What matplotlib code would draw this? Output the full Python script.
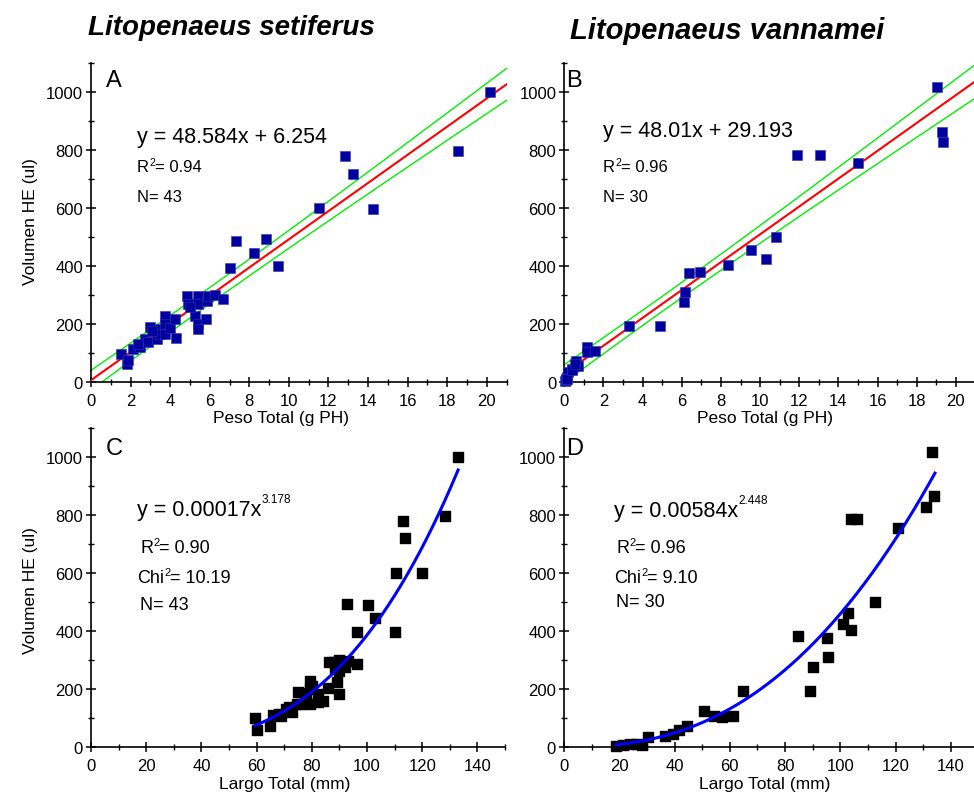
import numpy as np
import matplotlib
matplotlib.use("Agg")
import matplotlib.pyplot as plt
from matplotlib.ticker import MultipleLocator

plt.rcParams['font.family'] = ['Liberation Sans', 'DejaVu Sans']

# ---------------- data ----------------
# Panel A: L. setiferus, weight (g) vs HE volume (ul)
a_peso = [1.52, 1.80, 1.85, 2.14, 2.48, 2.73, 2.88, 2.98, 3.32, 3.49, 3.50, 3.74, 3.74, 3.74,
          4.00, 4.24, 4.28, 4.84, 4.92, 5.26, 5.39, 5.42, 5.42, 5.42, 5.80, 5.85, 5.93, 6.27,
          6.69, 7.02, 7.33, 8.24, 8.84, 9.46, 11.52, 12.83, 13.22, 14.23, 18.55, 20.16,
          2.40, 3.10, 5.00]
a_vol = [97, 62, 75, 114, 121, 148, 138, 190, 148, 183, 165, 229, 200, 166,
         185, 217, 152, 296, 269, 227, 296, 269, 200, 183, 217, 280, 298, 300,
         286, 393, 486, 445, 493, 399, 599, 780, 717, 597, 798, 999,
         130, 175, 260]

# Panel B: L. vannamei, weight (g) vs HE volume (ul)
b_peso = [0.12, 0.20, 0.38, 0.60, 0.72, 1.14, 1.14, 1.57, 3.32, 4.89, 6.16, 6.11, 6.38, 6.93,
          8.38, 9.52, 19.02, 19.27, 19.33, 11.87, 13.06, 15.02, 10.30, 10.81,
          0.05, 0.08, 0.10, 0.15, 0.40, 0.55]
b_vol = [16, 33, 45, 73, 56, 122, 102, 108, 192, 194, 309, 277, 375, 380,
         403, 456, 1018, 863, 829, 784, 784, 755, 424, 501,
         5, 8, 10, 12, 40, 62]

# Panel C: L. setiferus, total length (mm) vs HE volume (ul)
c_largo = [133.0, 128.2, 113.1, 113.7, 110.4, 120.1, 92.8, 100.4, 102.8, 96.2, 110.1,
           86.3, 88.0, 93.2, 96.2, 89.9, 92.0, 88.3, 79.3, 79.3, 89.3, 85.9, 89.8,
           82.1, 82.1, 79.3, 77.5, 75.1, 74.5, 73.0, 71.8, 70.6, 69.0, 66.0, 64.8,
           59.4, 60.2, 80.0, 78.0, 90.0, 84.0, 76.0, 68.0]
c_vol = [1000, 798, 780, 720, 599, 599, 493, 490, 444, 395, 398,
         294, 294, 298, 286, 263, 277, 269, 229, 200, 223, 202, 183,
         183, 154, 148, 166, 189, 148, 120, 137, 131, 108, 110, 71,
         99, 60, 210, 185, 300, 160, 150, 115]

# Panel D: L. vannamei, total length (mm) vs HE volume (ul)
d_largo = [133.0, 133.9, 131.0, 103.7, 106.1, 120.7, 112.4, 102.7, 101.1, 103.7, 84.8,
           95.0, 95.5, 90.2, 89.0, 64.9, 50.8, 54.3, 57.0, 61.3, 44.6, 41.7, 39.5,
           36.5, 30.5, 26.3, 28.1, 21.2, 18.8, 24.0]
d_vol = [1018, 864, 829, 786, 786, 756, 501, 461, 424, 405, 382,
         375, 309, 277, 194, 192, 123, 108, 102, 108, 71, 60, 45,
         39, 33, 10, 7, 8, 4, 10]

# fitted models (printed on the chart)
a_fit = (48.584, 6.254)
b_fit = (48.01, 29.193)
c_fit = (0.00017, 3.178)
d_fit = (0.00584, 2.448)
# confidence band shape: (centre x, half-width at centre, growth)
a_band = (6.0, 28.0, 3.16)
b_band = (5.0, 26.0, 3.24)
c_range = (59.4, 133.0)
d_range = (18.8, 134.2)

titles = ["Litopenaeus setiferus", "Litopenaeus vannamei"]

# ---------------- figure ----------------
W, H = 974, 812
fig = plt.figure(figsize=(W / 100, H / 100), dpi=100)
renderer = fig.canvas.get_renderer()


def px_axes(left, top, right, bottom):
    return fig.add_axes([left / W, 1 - bottom / H, (right - left) / W, (bottom - top) / H])


def ftext(x, y, s, **kw):
    return fig.text(x / W, 1 - y / H, s, **kw)


def sup_line(x, y_base, segments):
    """segments: list of (text, fontsize, raise_px); drawn on one baseline."""
    cx = x
    for s, fs, rz in segments:
        t = ftext(cx, y_base - rz, s, ha='left', va='baseline', fontsize=fs)
        bb = t.get_window_extent(renderer=renderer)
        cx += bb.width


def style(ax, xmax, xmaj, xmin):
    ax.set_xlim(0, xmax)
    ax.set_ylim(0, 1100)
    ax.spines['top'].set_visible(False)
    ax.spines['right'].set_visible(False)
    for s in ('left', 'bottom'):
        ax.spines[s].set_linewidth(1.2)
    ax.xaxis.set_major_locator(MultipleLocator(xmaj))
    ax.xaxis.set_minor_locator(MultipleLocator(xmin))
    ax.yaxis.set_major_locator(MultipleLocator(200))
    ax.yaxis.set_minor_locator(MultipleLocator(100))
    ax.tick_params(which='major', direction='inout', length=6.5, width=1.1, labelsize=12)
    ax.tick_params(which='minor', direction='inout', length=4, width=1.0)
    ax.tick_params(axis='x', which='major', pad=4.5)
    ax.tick_params(axis='y', which='major', pad=2.5)
    ax.set_yticks([0, 200, 400, 600, 800, 1000])
    ax.patch.set_alpha(0)


axA = px_axes(91, 64, 506.6, 383)
axB = px_axes(564.3, 64, 975.5, 383)
axC = px_axes(91, 429, 505, 748)
axD = px_axes(564, 429, 978.6, 748)

style(axA, 21, 2, 1)
style(axB, 21, 2, 1)
style(axC, 150, 20, 10)
style(axD, 150, 20, 10)

# linear panels
for ax, xs, ys, fit, band in [(axA, a_peso, a_vol, a_fit, a_band),
                              (axB, b_peso, b_vol, b_fit, b_band)]:
    xx = np.linspace(0, 21, 200)
    yy = fit[0] * xx + fit[1]
    hw = np.sqrt(band[1] ** 2 + (band[2] * (xx - band[0])) ** 2)
    ax.plot(xx, yy + hw, color='#00ee00', lw=1.0, zorder=2, clip_on=False)
    ax.plot(xx, yy - hw, color='#00ee00', lw=1.0, zorder=2)
    ax.plot(xx, yy, color='#ff0000', lw=1.5, zorder=3)
    ax.scatter(xs, ys, marker='s', s=42, color='#0000a0', edgecolors='#3333b0',
               linewidths=0.4, zorder=4, clip_on=False)

# power-law panels
for ax, xs, ys, fit, rng in [(axC, c_largo, c_vol, c_fit, c_range),
                             (axD, d_largo, d_vol, d_fit, d_range)]:
    ax.scatter(xs, ys, marker='s', s=50, color='black', zorder=3, clip_on=False)
    xx = np.linspace(rng[0], rng[1], 200)
    ax.plot(xx, fit[0] * xx ** fit[1], color='#0000ff', lw=2.2, zorder=4)

# titles
ftext(231, 28, titles[0], ha='center', va='center', fontsize=20, fontweight='bold', style='italic')
ftext(727, 31, titles[1], ha='center', va='center', fontsize=21, fontweight='bold', style='italic')

# panel letters
ftext(106, 81, "A", ha='left', va='center', fontsize=17)
ftext(566, 81, "B", ha='left', va='center', fontsize=17)
ftext(106, 449, "C", ha='left', va='center', fontsize=17)
ftext(566, 449, "D", ha='left', va='center', fontsize=17)

# annotations, panel A
ftext(137, 138, "y = 48.584x + 6.254", ha='left', va='center', fontsize=15.5)
sup_line(137, 172, [("R", 12, 0), ("2", 7.5, 6.5), ("= 0.94", 12, 0)])
ftext(137, 197, "N= 43", ha='left', va='center', fontsize=12)

# panel B
ftext(603, 131, "y = 48.01x + 29.193", ha='left', va='center', fontsize=15.5)
sup_line(603, 172, [("R", 12, 0), ("2", 7.5, 6.5), ("= 0.96", 12, 0)])
ftext(603, 197, "N= 30", ha='left', va='center', fontsize=12)

# panel C
sup_line(137, 516, [("y = 0.00017x", 15.5, 0), ("3.178", 8.5, 13)])
sup_line(140, 553, [("R", 13, 0), ("2", 8, 7), ("= 0.90", 13, 0)])
sup_line(137, 583, [("Chi", 13, 0), ("2", 8, 7), ("= 10.19", 13, 0)])
ftext(140, 606, "N= 43", ha='left', va='center', fontsize=13)

# panel D
sup_line(614, 517, [("y = 0.00584x", 15.5, 0), ("2.448", 8.5, 13)])
sup_line(616, 553, [("R", 13, 0), ("2", 8, 7), ("= 0.96", 13, 0)])
sup_line(614, 583, [("Chi", 13, 0), ("2", 8, 7), ("= 9.10", 13, 0)])
ftext(616, 603, "N= 30", ha='left', va='center', fontsize=13)

# axis labels
ftext(30, 222, "Volumen HE (ul)", ha='center', va='center', rotation=90, fontsize=12.5)
ftext(30, 591, "Volumen HE (ul)", ha='center', va='center', rotation=90, fontsize=12.5)
ftext(281, 419, "Peso Total (g PH)", ha='center', va='center', fontsize=12.5)
ftext(765, 419, "Peso Total (g PH)", ha='center', va='center', fontsize=12.5)
ftext(285, 785, "Largo Total (mm)", ha='center', va='center', fontsize=12.5)
ftext(765, 785, "Largo Total (mm)", ha='center', va='center', fontsize=12.5)

fig.savefig("out.png", dpi=100)
